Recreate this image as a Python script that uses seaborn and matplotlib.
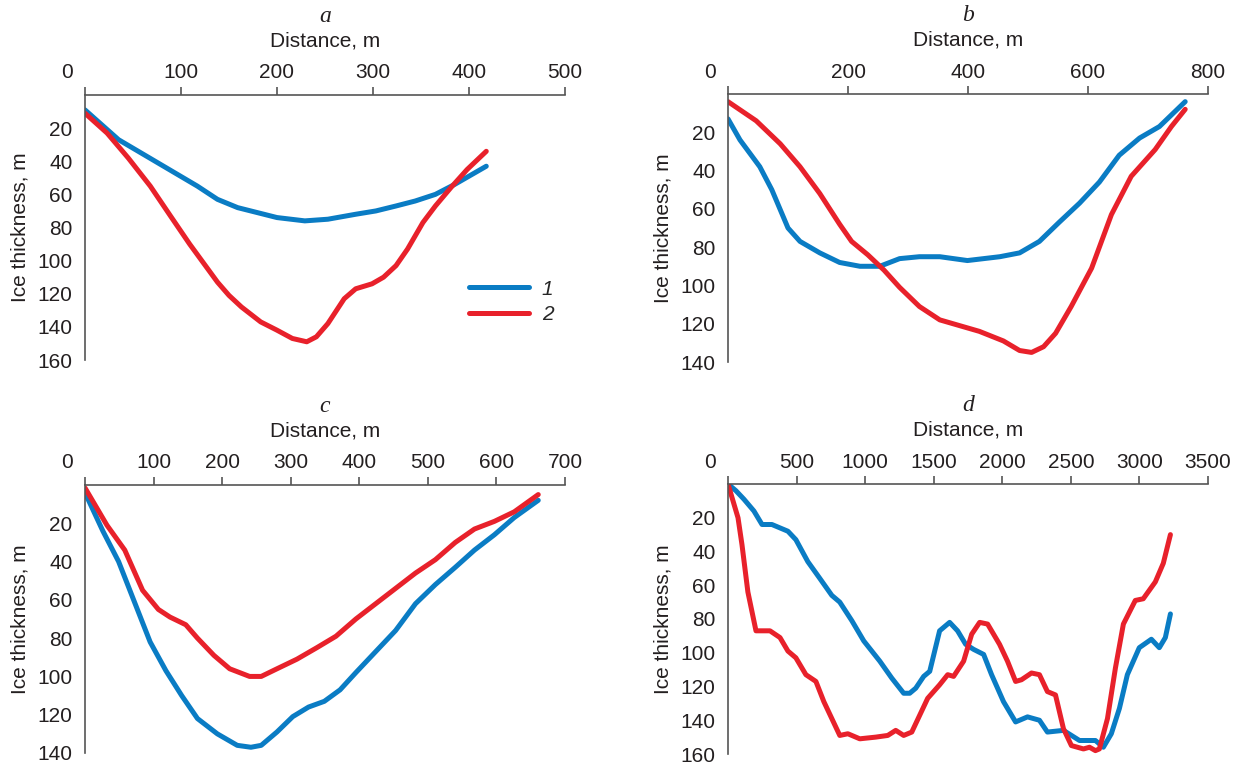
import matplotlib
matplotlib.use("Agg")
import matplotlib.pyplot as plt
import matplotlib.transforms as mtransforms
import seaborn as sns

# panel a
a_dist_1 = [0, 35, 76, 117, 138, 159, 200, 229, 253, 282, 303, 324, 344, 365, 385, 418]
a_ice_1 = [9, 27, 41, 55, 63, 68, 74, 76, 75, 72, 70, 67, 64, 60, 54, 43]
a_dist_2 = [0, 23, 45, 68, 89, 109, 138, 150, 163, 183, 200, 216, 231, 241, 253, 270, 282,
            299, 311, 324, 336, 352, 365, 381, 398, 418]
a_ice_2 = [11, 23, 38, 55, 73, 90, 113, 121, 128, 137, 142, 147, 149, 146, 138, 123, 117,
           114, 110, 103, 93, 77, 67, 56, 45, 34]

# panel b
b_dist_1 = [0, 20, 53, 73, 100, 120, 153, 186, 220, 253, 286, 319, 353, 399, 453, 486, 519,
            552, 586, 619, 652, 686, 719, 762]
b_ice_1 = [13, 24, 38, 50, 70, 77, 83, 88, 90, 90, 86, 85, 85, 87, 85, 83, 77, 67, 57, 46,
           32, 23, 17, 4]
b_dist_2 = [0, 47, 87, 120, 153, 186, 206, 233, 260, 286, 319, 353, 386, 419, 459, 486, 506,
            526, 546, 572, 606, 639, 672, 712, 739, 762]
b_ice_2 = [4, 14, 26, 38, 52, 68, 77, 84, 92, 101, 111, 118, 121, 124, 129, 134, 135, 132,
           125, 111, 91, 63, 43, 29, 17, 8]

# panel c
c_dist_1 = [0, 26, 49, 72, 95, 118, 141, 164, 193, 222, 242, 257, 280, 303, 326, 349, 372,
            395, 424, 453, 482, 511, 540, 568, 597, 626, 661]
c_ice_1 = [4, 24, 40, 61, 82, 97, 110, 122, 130, 136, 137, 136, 129, 121, 116, 113, 107, 98,
           87, 76, 62, 52, 43, 34, 26, 17, 8]
c_dist_2 = [0, 32, 58, 84, 107, 124, 147, 164, 188, 211, 240, 257, 280, 309, 338, 366, 395,
            424, 453, 482, 511, 540, 568, 597, 626, 661]
c_ice_2 = [1.5, 21, 34, 55, 65, 69, 73, 80, 89, 96, 100, 100, 96, 91, 85, 79, 70, 62, 54, 46,
           39, 30, 23, 19, 14, 5]

# panel d
d_dist_1 = [0, 58, 116, 189, 248, 320, 437, 495, 582, 670, 757, 815, 903, 990, 1107, 1194,
            1281, 1325, 1369, 1427, 1471, 1543, 1616, 1674, 1733, 1791, 1864, 1922, 2009,
            2097, 2184, 2271, 2329, 2446, 2563, 2679, 2737, 2795, 2854, 2912, 2999, 3087,
            3145, 3189, 3226]
d_ice_1 = [0, 4, 9, 16, 24, 24, 28, 33, 46, 56, 66, 70, 81, 93, 105, 115, 124, 124, 121, 114,
           111, 87, 82, 87, 95, 98, 101, 113, 129, 141, 138, 140, 147, 146, 152, 152, 156,
           148, 133, 113, 97, 92, 97, 91, 77]
d_dist_2 = [0, 73, 102, 145, 204, 306, 379, 437, 495, 568, 641, 699, 815, 874, 961, 1077,
            1165, 1223, 1281, 1340, 1456, 1543, 1602, 1645, 1718, 1777, 1835, 1893, 1980,
            2038, 2097, 2140, 2213, 2271, 2329, 2388, 2446, 2504, 2592, 2636, 2679, 2708,
            2767, 2825, 2883, 2970, 3028, 3116, 3174, 3226]
d_ice_2 = [0, 20, 36, 64, 87, 87, 91, 99, 103, 113, 117, 129, 149, 148, 151, 150, 149, 146,
           149, 147, 127, 119, 113, 114, 105, 89, 82, 83, 95, 105, 117, 116, 112, 113, 123,
           125, 145, 155, 157, 156, 158, 157, 139, 109, 83, 69, 68, 58, 47, 30]

panel_names = ["a", "b", "c", "d"]
x_ticks = [[0, 100, 200, 300, 400, 500], [0, 200, 400, 600, 800],
           [0, 100, 200, 300, 400, 500, 600, 700],
           [0, 500, 1000, 1500, 2000, 2500, 3000, 3500]]
y_max = [160, 140, 140, 160]
series = [(a_dist_1, a_ice_1, a_dist_2, a_ice_2), (b_dist_1, b_ice_1, b_dist_2, b_ice_2),
          (c_dist_1, c_ice_1, c_dist_2, c_ice_2), (d_dist_1, d_ice_1, d_dist_2, d_ice_2)]
legend_labels = ["1", "2"]

sns.set_style("white")
plt.rcParams['font.family'] = ['Liberation Sans', 'DejaVu Sans']

blue = "#0a7cc4"
red = "#e8212b"
text_col = "#231f20"
spine_col = "#555555"

fig = plt.figure(figsize=(12.46, 7.65), dpi=100)
W, H = 1246, 765
# pixel boxes: left, top, right, bottom
boxes = [(85, 95, 565, 360), (728, 94, 1208, 362), (85, 485, 565, 753), (728, 484, 1208, 754)]

for i, (l, t, r, b) in enumerate(boxes):
    ax = fig.add_axes([l / W, 1 - b / H, (r - l) / W, (b - t) / H])
    x1, y1, x2, y2 = series[i]
    sns.lineplot(x=x1, y=y1, ax=ax, color=blue, lw=3.6, label=legend_labels[0],
                 solid_joinstyle="round")
    sns.lineplot(x=x2, y=y2, ax=ax, color=red, lw=3.6, label=legend_labels[1],
                 solid_joinstyle="round")
    ax.set_xlim(0, x_ticks[i][-1])
    ax.set_ylim(y_max[i], 0)
    ax.xaxis.tick_top()
    ax.xaxis.set_label_position("top")
    ax.set_xticks(x_ticks[i])
    ax.set_xticklabels([str(v) for v in x_ticks[i]])
    yt = list(range(20, y_max[i] + 1, 20))
    ax.set_yticks(yt)
    ax.set_yticklabels([str(v) for v in yt])
    for s in ["right", "bottom"]:
        ax.spines[s].set_visible(False)
    for s in ["left", "top"]:
        ax.spines[s].set_color(spine_col)
        ax.spines[s].set_linewidth(1.2)
    ax.tick_params(axis="both", direction="out", length=6, width=1.2, color=spine_col,
                   labelsize=15, labelcolor=text_col)
    ax.tick_params(axis="x", pad=3)
    ax.tick_params(axis="y", pad=3)
    # corner "0" sits left of the spine corner
    zero = ax.get_xticklabels()[0]
    zero.set_horizontalalignment("right")
    zero.set_transform(zero.get_transform() +
                       mtransforms.ScaledTranslation(-12 / 100, 0, fig.dpi_scale_trans))
    ax.set_xlabel("Distance, m", fontsize=15, color=text_col, labelpad=12)
    ax.set_ylabel("Ice thickness, m", fontsize=15, color=text_col, labelpad=6)
    ax.set_title(panel_names[i], fontsize=17, style="italic", family="Liberation Serif",
                 color=text_col, pad=7)
    if i == 0:
        ax.legend(loc="center left", bbox_to_anchor=(0.80, 0.22), frameon=False,
                  handlelength=2.9, prop={"style": "italic", "size": 15},
                  labelspacing=0.3, handletextpad=0.6, borderaxespad=0, borderpad=0)
    else:
        ax.get_legend().remove()

fig.savefig("out.png", dpi=100)
